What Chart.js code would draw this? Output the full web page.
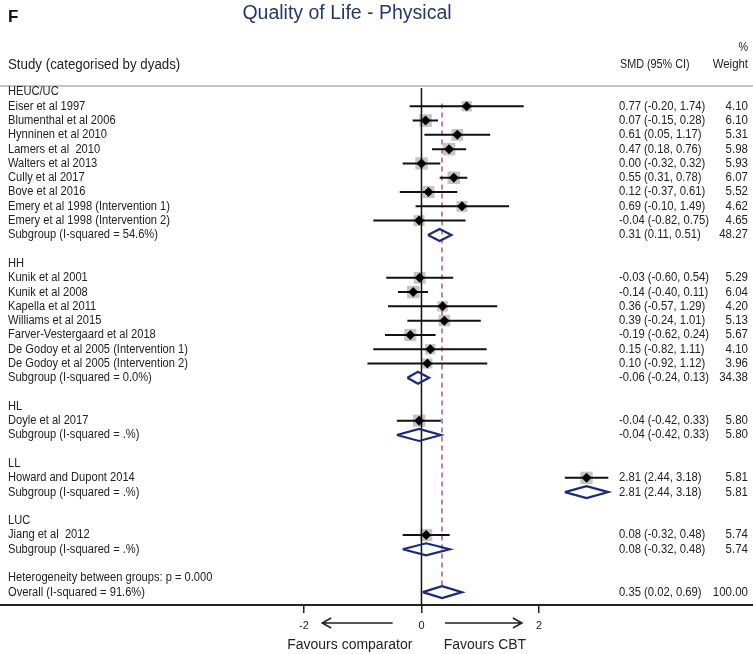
<!DOCTYPE html>
<html>
<head>
<meta charset="utf-8">
<script src="https://cdn.jsdelivr.net/npm/chart.js@4.4.1/dist/chart.umd.min.js"></script>
<style>
  body { margin: 0; background: #fff; }
  #wrap { width: 753px; height: 654px; position: relative; }
</style>
</head>
<body>
<div id="wrap"><canvas id="forest"></canvas></div>
<script>
// row labels, one per plotted row (blank = spacer)
const rowLabels = [
  "HEUC/UC", "Eiser et al 1997", "Blumenthal et al 2006", "Hynninen et al 2010", "Lamers et al  2010",
  "Walters et al 2013", "Cully et al 2017", "Bove et al 2016", "Emery et al 1998 (Intervention 1)",
  "Emery et al 1998 (Intervention 2)", "Subgroup (I-squared = 54.6%)", "",
  "HH", "Kunik et al 2001", "Kunik et al 2008", "Kapella et al 2011", "Williams et al 2015",
  "Farver-Vestergaard et al 2018", "De Godoy et al 2005 (Intervention 1)", "De Godoy et al 2005 (Intervention 2)",
  "Subgroup (I-squared = 0.0%)", "",
  "HL", "Doyle et al 2017", "Subgroup (I-squared = .%)", "",
  "LL", "Howard and Dupont 2014", "Subgroup (I-squared = .%)", "",
  "LUC", "Jiang et al  2012", "Subgroup (I-squared = .%)", "",
  "Heterogeneity between groups: p = 0.000", "Overall (I-squared = 91.6%)"
];

// individual studies
const studyRows = [1, 2, 3, 4, 5, 6, 7, 8, 9, 13, 14, 15, 16, 17, 18, 19, 23, 27, 31];
const studyEst = [0.77, 0.07, 0.61, 0.47, 0.00, 0.55, 0.12, 0.69, -0.04, -0.03, -0.14, 0.36, 0.39, -0.19, 0.15, 0.10, -0.04, 2.81, 0.08];
const studyLo = [-0.20, -0.15, 0.05, 0.18, -0.32, 0.31, -0.37, -0.10, -0.82, -0.60, -0.40, -0.57, -0.24, -0.62, -0.82, -0.92, -0.42, 2.44, -0.32];
const studyHi = [1.74, 0.28, 1.17, 0.76, 0.32, 0.78, 0.61, 1.49, 0.75, 0.54, 0.11, 1.29, 1.01, 0.24, 1.11, 1.12, 0.33, 3.18, 0.48];
const studyWeight = [4.10, 6.10, 5.31, 5.98, 5.93, 6.07, 5.52, 4.62, 4.65, 5.29, 6.04, 4.20, 5.13, 5.67, 4.10, 3.96, 5.80, 5.81, 5.74];

// pooled estimates (subgroups + overall)
const poolRows = [10, 20, 24, 28, 32, 35];
const poolEst = [0.31, -0.06, -0.04, 2.81, 0.08, 0.35];
const poolLo = [0.11, -0.24, -0.42, 2.44, -0.32, 0.02];
const poolHi = [0.51, 0.13, 0.33, 3.18, 0.48, 0.69];
const poolWeight = [48.27, 34.38, 5.80, 5.81, 5.74, 100.00];

const xTicks = [-2, 0, 2];
const overallEst = 0.35;

const fmt = (v) => v.toFixed(2);
const ciText = (e, l, h) => fmt(e) + " (" + fmt(l) + ", " + fmt(h) + ")";
const FONT = 'Arial, "Liberation Sans", sans-serif';

Chart.defaults.font.family = FONT;

// CI whiskers as one broken line
const ciLines = [];
studyRows.forEach((r, i) => {
  ciLines.push({ x: studyLo[i], y: r }, { x: studyHi[i], y: r }, { x: null, y: null });
});

// diamonds for pooled rows
const diamondHalf = 0.42;
const diamonds = [];
poolRows.forEach((r, i) => {
  diamonds.push(
    { x: poolLo[i], y: r },
    { x: poolEst[i], y: r - diamondHalf },
    { x: poolHi[i], y: r },
    { x: poolEst[i], y: r + diamondHalf },
    { x: poolLo[i], y: r },
    { x: null, y: null }
  );
});

const squares = studyRows.map((r, i) => ({ x: studyEst[i], y: r }));
const squareRadius = studyWeight.map((w) => 3.6 * Math.sqrt(w));

// narrow text: draw at a given size, squeezed horizontally
function squeezed(ctx, txt, x, y, align, sx) {
  ctx.save();
  ctx.translate(x, y);
  ctx.scale(sx, 1);
  ctx.textAlign = align;
  ctx.fillText(txt, 0, 0);
  ctx.restore();
}

const textPlugin = {
  id: "forestText",
  afterDraw(chart) {
    const ctx = chart.ctx;
    const y = chart.scales.y;
    const x = chart.scales.x;
    const W = chart.width;
    ctx.save();
    ctx.textBaseline = "middle";

    // panel letter and title
    ctx.fillStyle = "#111";
    ctx.font = "bold 17px " + FONT;
    ctx.textAlign = "left";
    ctx.fillText("F", 8, 17);
    ctx.fillStyle = "#24386b";
    ctx.font = "19.5px " + FONT;
    ctx.textAlign = "center";
    ctx.fillText("Quality of Life - Physical", 347, 14);

    // column headers
    ctx.fillStyle = "#222";
    ctx.font = "14px " + FONT;
    squeezed(ctx, "Study (categorised by dyads)", 8, 65, "left", 0.95);
    ctx.font = "12px " + FONT;
    squeezed(ctx, "SMD (95% CI)", 620, 65, "left", 0.9);
    squeezed(ctx, "%", 748, 48, "right", 0.9);
    squeezed(ctx, "Weight", 748, 65, "right", 0.95);

    // header rule
    ctx.strokeStyle = "#b0b0b0";
    ctx.lineWidth = 1.5;
    ctx.beginPath();
    ctx.moveTo(0, 86);
    ctx.lineTo(W, 86);
    ctx.stroke();

    // row labels
    ctx.font = "12.5px " + FONT;
    ctx.fillStyle = "#222";
    rowLabels.forEach((lab, r) => {
      if (lab) squeezed(ctx, lab, 8, y.getPixelForValue(r), "left", 0.89);
    });

    // estimate and weight columns
    const cols = (rows, e, l, h, w) => {
      rows.forEach((r, i) => {
        const py = y.getPixelForValue(r);
        squeezed(ctx, ciText(e[i], l[i], h[i]), 619, py, "left", 0.9);
        squeezed(ctx, fmt(w[i]), 748, py, "right", 0.92);
      });
    };
    cols(studyRows, studyEst, studyLo, studyHi, studyWeight);
    cols(poolRows, poolEst, poolLo, poolHi, poolWeight);

    // direction arrows
    const ay = 623;
    ctx.strokeStyle = "#222";
    ctx.lineWidth = 1.5;
    const arrow = (from, to) => {
      const x1 = x.getPixelForValue(from);
      const x2 = x.getPixelForValue(to);
      const d = x2 > x1 ? -1 : 1;
      ctx.beginPath();
      ctx.moveTo(x1, ay);
      ctx.lineTo(x2, ay);
      ctx.moveTo(x2 + d * 9, ay - 5);
      ctx.lineTo(x2, ay);
      ctx.lineTo(x2 + d * 9, ay + 5);
      ctx.stroke();
    };
    arrow(-0.49, -1.69);
    arrow(0.4, 1.71);

    ctx.font = "14px " + FONT;
    ctx.fillStyle = "#222";
    ctx.textAlign = "center";
    ctx.fillText("Favours comparator", x.getPixelForValue(-1.22), 645);
    ctx.fillText("Favours CBT", x.getPixelForValue(1.08), 645);
    ctx.restore();
  }
};

new Chart(document.getElementById("forest"), {
  type: "scatter",
  data: {
    datasets: [
      {
        label: "weights",
        data: squares,
        pointStyle: "rect",
        pointRadius: squareRadius,
        backgroundColor: "#c4c4c4",
        borderWidth: 0,
        order: 5,
      },
      {
        label: "zero",
        data: [{ x: 0, y: -0.3 }, { x: 0, y: 36 }],
        showLine: true,
        borderColor: "#111",
        borderWidth: 1.5,
        pointRadius: 0,
        order: 4,
      },
      {
        label: "overall",
        data: [{ x: overallEst, y: 0.8 }, { x: overallEst, y: 34.55 }],
        showLine: true,
        borderColor: "#a3455a",
        borderDash: [5, 4],
        borderWidth: 1.3,
        pointRadius: 0,
        order: 3,
      },
      {
        label: "ci",
        data: ciLines,
        showLine: true,
        spanGaps: false,
        borderColor: "#111",
        borderWidth: 2,
        pointRadius: 0,
        order: 2,
      },
      {
        label: "estimate",
        data: squares,
        pointStyle: "rectRot",
        pointRadius: 5,
        backgroundColor: "#000",
        borderWidth: 0,
        order: 1,
      },
      {
        label: "pooled",
        data: diamonds,
        showLine: true,
        spanGaps: false,
        borderColor: "#1b2a7d",
        borderWidth: 2.2,
        pointRadius: 0,
        order: 0,
      },
    ],
  },
  options: {
    responsive: true,
    maintainAspectRatio: false,
    animation: false,
    events: [],
    devicePixelRatio: 1,
    layout: { autoPadding: false, padding: { top: 88, left: 0, right: 0, bottom: 0 } },
    plugins: {
      legend: { display: false },
      tooltip: { enabled: false },
    },
    scales: {
      x: {
        type: "linear",
        min: -7.174,
        max: 5.643,
        afterBuildTicks: (scale) => {
          scale.ticks = xTicks.map((v) => ({ value: v }));
        },
        afterFit: (scale) => {
          scale.height = 49;
        },
        grid: {
          drawOnChartArea: false,
          drawTicks: true,
          tickLength: 8,
          color: "#222",
          lineWidth: 1.5,
        },
        border: { display: true, color: "#222", width: 2 },
        ticks: {
          color: "#222",
          padding: 6,
          font: { size: 11 },
          maxRotation: 0,
          autoSkip: false,
          callback: (v) => String(v),
        },
      },
      y: {
        type: "linear",
        display: false,
        reverse: true,
        min: -0.28,
        max: 35.9,
      },
    },
  },
  plugins: [textPlugin],
});
</script>
</body>
</html>
